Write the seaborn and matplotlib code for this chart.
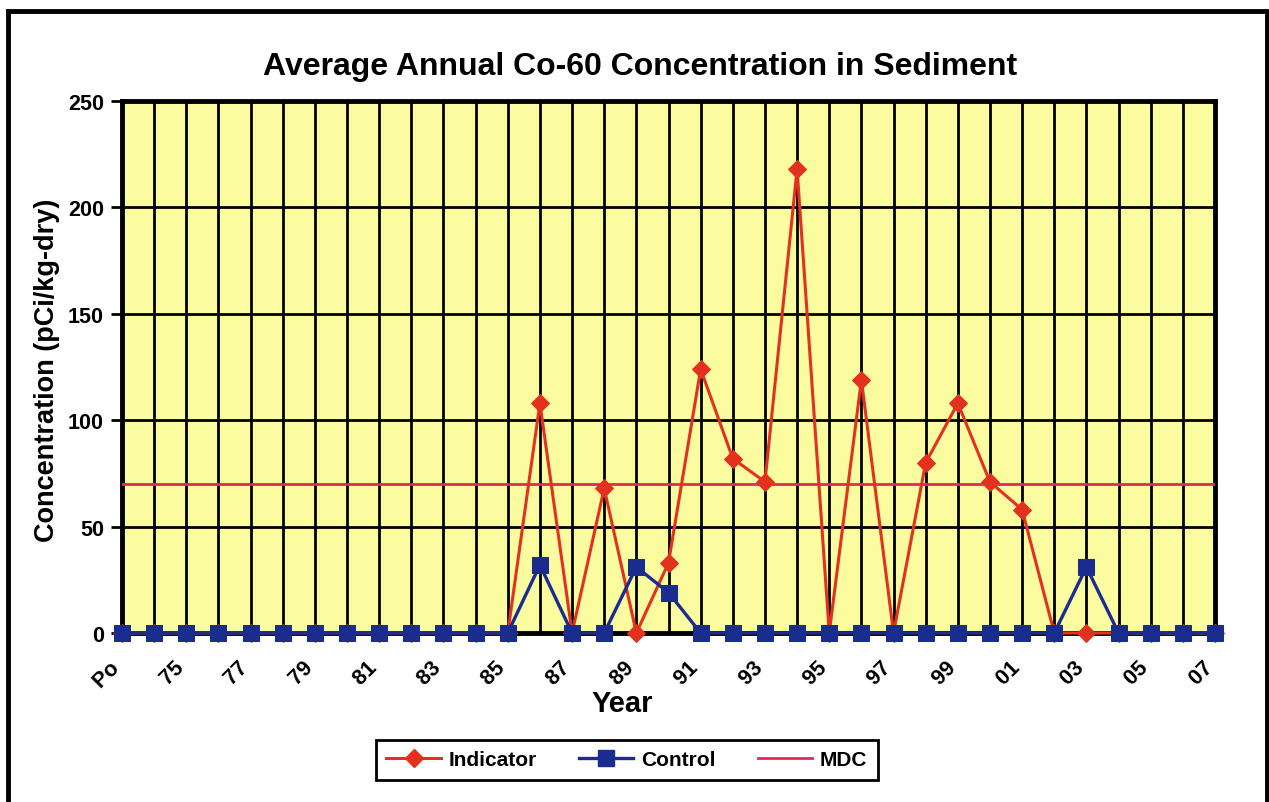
import matplotlib
matplotlib.use("Agg")
import matplotlib.pyplot as plt
from matplotlib.patches import Rectangle
from matplotlib.lines import Line2D
import numpy as np
import pandas as pd
import seaborn as sns

# categories (only every other one gets a label)
years = ["Po", "74", "75", "76", "77", "78", "79", "80", "81", "82", "83", "84",
         "85", "86", "87", "88", "89", "90", "91", "92", "93", "94", "95", "96",
         "97", "98", "99", "00", "01", "02", "03", "04", "05", "06", "07"]

indicator = [0, 0, 0, 0, 0, 0, 0, 0, 0, 0, 0, 0,
             0, 108, 0, 68, 0, 33, 124, 82, 71, 218, 0, 119,
             0, 80, 108, 71, 58, 0, 0, 0, 0, 0, 0]
control = [0, 0, 0, 0, 0, 0, 0, 0, 0, 0, 0, 0,
           0, 32, 0, 0, 31, 19, 0, 0, 0, 0, 0, 0,
           0, 0, 0, 0, 0, 0, 31, 0, 0, 0, 0]
mdc = [70] * len(years)

yticks = [0, 50, 100, 150, 200, 250]

RED = "#E2321F"
BLUE = "#1B2C8F"
PINK = "#E5265A"
YELLOW = "#FBFBA0"

plt.rcParams["font.family"] = ["Liberation Sans", "DejaVu Sans"]
plt.rcParams["font.weight"] = "bold"

df = pd.DataFrame({"pos": np.arange(len(years)), "Indicator": indicator,
                   "Control": control, "MDC": mdc})

W, H = 1269, 803
fig = plt.figure(figsize=(W / 100, H / 100), dpi=100)
ax = fig.add_axes([122 / W, 1 - 634 / H, (1215 - 122) / W, (634 - 102) / H])
ax.set_facecolor(YELLOW)

sns.lineplot(data=df, x="pos", y="MDC", ax=ax, color=PINK, linewidth=2, legend=False, zorder=3)
sns.lineplot(data=df, x="pos", y="Indicator", ax=ax, color=RED, linewidth=2.2,
             marker="D", markersize=9, markeredgecolor=RED, clip_on=False, legend=False, zorder=4)
sns.lineplot(data=df, x="pos", y="Control", ax=ax, color=BLUE, linewidth=2.4,
             marker="s", markersize=11, markeredgecolor=BLUE, clip_on=False, legend=False, zorder=5)

ax.set_xlim(0, len(years) - 1)
ax.set_ylim(0, 250)
ax.set_xticks(df["pos"])
# trailing spaces push the slanted labels down-left of the tick, like Excel does
ax.set_xticklabels([lab + "   " if i % 2 == 0 else "" for i, lab in enumerate(years)],
                   rotation=45, ha="right", va="top", rotation_mode="anchor",
                   fontsize=15.5, fontweight="bold")
ax.set_yticks(yticks)
ax.set_yticklabels([str(t) for t in yticks], fontsize=15.5, fontweight="bold")
ax.tick_params(axis="x", length=0, pad=8)
ax.tick_params(axis="y", length=8, width=2, direction="out", pad=5)
ax.grid(True, color="black", linewidth=2)
ax.set_axisbelow(True)
for s in ax.spines.values():
    s.set_linewidth(3.5)
    s.set_color("black")
ax.set_xlabel("")
ax.set_ylabel("")

fig.text(640 / W, 1 - 67 / H, "Average Annual Co-60 Concentration in Sediment",
         ha="center", va="center", fontsize=23, fontweight="bold")
fig.text(47 / W, 1 - 370 / H, "Concentration (pCi/kg-dry)", rotation=90,
         ha="center", va="center", fontsize=19.5, fontweight="bold")
fig.text(622 / W, 1 - 704 / H, "Year", ha="center", va="center",
         fontsize=21, fontweight="bold")

handles = [
    Line2D([], [], color=RED, linewidth=2.2, marker="D", markersize=9),
    Line2D([], [], color=BLUE, linewidth=2.4, marker="s", markersize=11),
    Line2D([], [], color=PINK, linewidth=2),
]
leg = fig.legend(handles, ["Indicator", "Control", "MDC"], loc="center",
                 bbox_to_anchor=(627 / W, 1 - 761 / H), ncol=3, fancybox=False,
                 edgecolor="black", framealpha=1, handlelength=2.6,
                 handletextpad=0.4, columnspacing=2.0, borderpad=0.5,
                 prop={"size": 15, "weight": "bold"})
leg.get_frame().set_linewidth(2)

fig.patches.append(Rectangle((8 / W, -0.05), (1267 - 8) / W, 1.05 - 12 / H,
                             transform=fig.transFigure, fill=False,
                             edgecolor="black", linewidth=3.5))

fig.savefig("out.png", dpi=100)
